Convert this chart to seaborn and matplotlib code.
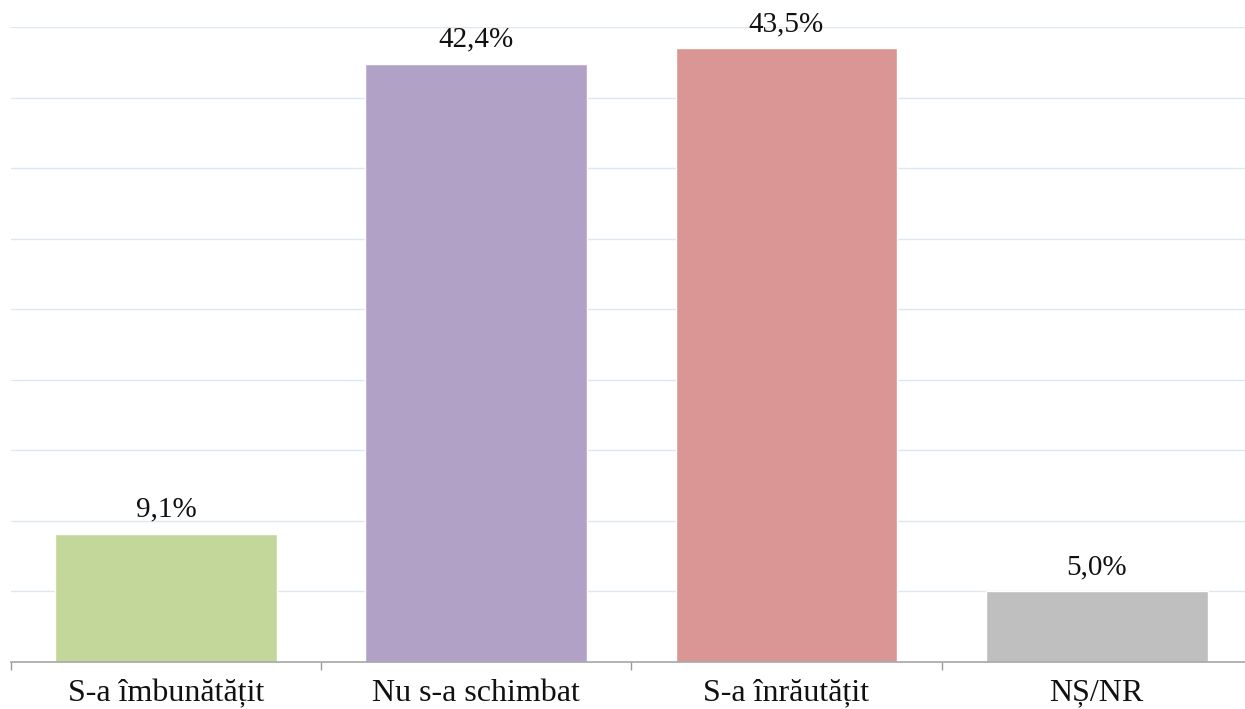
import pandas as pd
import numpy as np
import matplotlib.pyplot as plt
import seaborn as sns

categories = ["S-a îmbunătățit", "Nu s-a schimbat", "S-a înrăutățit", "NȘ/NR"]
values = [9.1, 42.4, 43.5, 5.0]
labels = ["9,1%", "42,4%", "43,5%", "5,0%"]
colors = ["#c4d79b", "#b2a1c7", "#d99694", "#bfbfbf"]

df = pd.DataFrame({"cat": categories, "val": values})

sns.set_theme(style="white")
plt.rcParams['font.family'] = ['Liberation Serif', 'DejaVu Serif']

fig = plt.figure(figsize=(12.45, 7.09), dpi=100)
ax = fig.add_axes([11 / 1245, 47 / 709, 1240.7 / 1245, 635 / 709])

sns.barplot(data=df, x="cat", y="val", hue="cat", palette=colors,
            width=0.715, saturation=1, legend=False, ax=ax)

ax.set_xlim(-0.5, 3.5)
ax.set_ylim(0, 45)
ax.set_yticks(np.arange(0, 46, 5))
ax.yaxis.grid(True, color="#dde7f0", linewidth=1)
ax.set_axisbelow(True)
ax.tick_params(axis="y", left=False, labelleft=False)

ax.set_xticks(range(len(categories)))
ax.set_xticklabels(categories, fontsize=23, color="#111111")
ax.set_xticks(np.arange(-0.5, 3.6, 1), minor=True)
ax.tick_params(axis="x", which="major", length=0, pad=12)
ax.tick_params(axis="x", which="minor", bottom=True, length=6, width=1, color="#999999")

for s in ["top", "right", "left"]:
    ax.spines[s].set_visible(False)
ax.spines["bottom"].set_color("#a6a6a6")
ax.spines["bottom"].set_linewidth(1.2)

ax.set_xlabel("")
ax.set_ylabel("")

for i, (v, t) in enumerate(zip(values, labels)):
    ax.annotate(t, (i, v), xytext=(0, 8), textcoords="offset points",
                ha="center", va="bottom", fontsize=21, color="#111111")

fig.savefig("out.png", dpi=100)
